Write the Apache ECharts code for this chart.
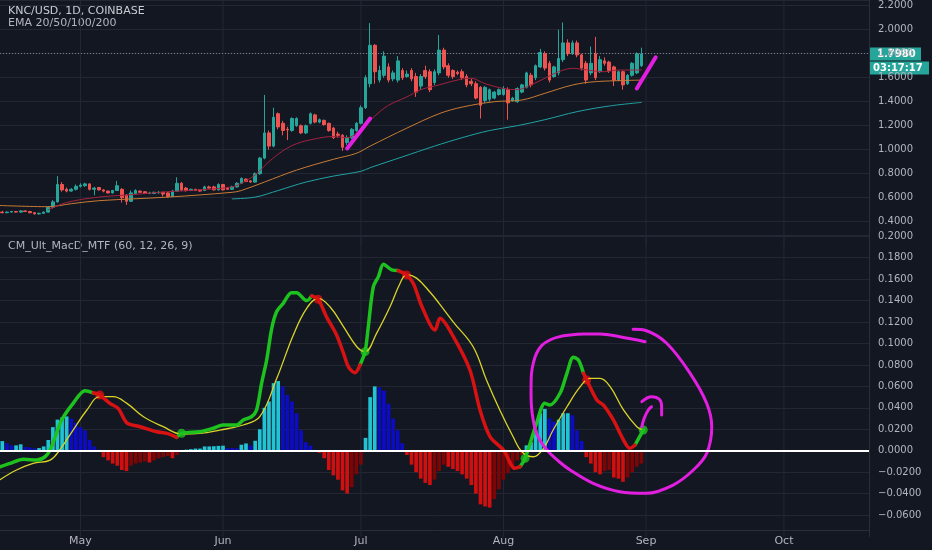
<!DOCTYPE html>
<html><head><meta charset="utf-8">
<script src="https://cdn.jsdelivr.net/npm/echarts@6/dist/echarts.min.js"></script>
<style>html,body{margin:0;padding:0;background:#131722;}#c{width:932px;height:550px;}</style>
</head><body><div id="c"></div>
<script>
// ---------- data ----------
const startDate = '2020-04-14';
const dayCount = 189;
const monthNames = ['Jan','Feb','Mar','Apr','May','Jun','Jul','Aug','Sep','Oct','Nov','Dec'];
const priceTitle = 'KNC/USD, 1D, COINBASE';
const emaTitle = 'EMA 20/50/100/200';
const macdTitle = 'CM_Ult_MacD_MTF (60, 12, 26, 9)';
const countdown = '03:17:17';
const priceStep = 0.2;
const macdStep = 0.02;
const priceRange = [0.2, 2.2475];
const macdRange = [-0.08, 0.2012];

// daily candles [open, close, low, high]
const candles = [
[.48,.475,.47,.49],[.475,.48,.47,.485],[.48,.485,.475,.49],[.485,.48,.475,.49],[.48,.49,.475,.495],
[.49,.485,.48,.495],[.485,.475,.47,.49],[.475,.465,.46,.48],[.465,.47,.46,.475],[.47,.48,.465,.485],
[.48,.52,.475,.53],[.52,.565,.51,.58],[.565,.71,.56,.78],[.71,.665,.65,.73],[.67,.655,.645,.685],
[.655,.67,.65,.68],[.67,.695,.66,.71],[.695,.705,.685,.72],[.70,.715,.69,.725],[.715,.67,.66,.72],
[.67,.68,.62,.69],[.685,.665,.66,.69],[.665,.655,.645,.67],[.655,.64,.635,.66],[.64,.66,.635,.665],
[.66,.70,.655,.74],[.67,.60,.56,.68],[.62,.57,.54,.63],[.57,.64,.565,.66],[.635,.66,.63,.67],
[.655,.645,.64,.66],[.65,.635,.63,.655],[.635,.64,.63,.65],[.635,.645,.63,.65],[.64,.645,.635,.655],
[.645,.63,.61,.65],[.64,.61,.60,.645],[.61,.655,.605,.665],[.655,.72,.65,.77],[.72,.665,.655,.73],
[.68,.66,.65,.69],[.66,.67,.655,.675],[.67,.66,.655,.675],[.665,.655,.65,.67],[.66,.69,.655,.70],
[.69,.68,.675,.70],[.69,.665,.66,.70],[.665,.71,.66,.72],[.71,.665,.66,.715],[.68,.67,.665,.69],
[.67,.69,.665,.70],[.69,.72,.685,.73],[.72,.76,.715,.77],[.755,.735,.73,.76],[.74,.73,.725,.745],
[.73,.80,.725,.81],[.80,.93,.79,.94],[.93,1.14,.92,1.456],[1.14,1.03,1.0,1.16],[1.03,1.27,1.02,1.35],
[1.30,1.19,1.17,1.31],[1.22,1.16,1.12,1.24],[1.17,1.165,1.08,1.19],[1.16,1.26,1.15,1.27],[1.20,1.26,1.19,1.27],
[1.20,1.14,1.13,1.21],[1.14,1.20,1.13,1.21],[1.22,1.30,1.21,1.31],[1.29,1.23,1.22,1.30],[1.23,1.25,1.22,1.26],
[1.245,1.21,1.20,1.25],[1.22,1.16,1.15,1.225],[1.18,1.10,1.09,1.19],[1.13,1.12,1.10,1.15],[1.12,1.02,0.99,1.13],
[1.06,1.10,1.04,1.12],[1.10,1.17,1.09,1.18],[1.16,1.22,1.15,1.23],[1.22,1.35,1.21,1.37],[1.35,1.60,1.34,1.62],
[1.55,1.87,1.52,2.055],[1.87,1.65,1.55,1.88],[1.58,1.66,1.56,1.70],[1.62,1.78,1.60,1.82],[1.69,1.58,1.56,1.72],
[1.59,1.64,1.57,1.66],[1.58,1.74,1.56,1.78],[1.66,1.60,1.58,1.68],[1.61,1.63,1.60,1.66],[1.66,1.59,1.57,1.68],
[1.61,1.48,1.44,1.64],[1.53,1.61,1.50,1.63],[1.66,1.61,1.59,1.70],[1.65,1.50,1.48,1.67],[1.56,1.65,1.54,1.67],
[1.64,1.83,1.62,1.956],[1.83,1.69,1.67,1.85],[1.70,1.62,1.60,1.72],[1.66,1.61,1.59,1.67],[1.645,1.635,1.62,1.66],
[1.65,1.60,1.58,1.67],[1.61,1.54,1.52,1.63],[1.57,1.55,1.53,1.59],[1.55,1.43,1.42,1.57],[1.52,1.37,1.26,1.53],
[1.41,1.52,1.39,1.53],[1.42,1.50,1.40,1.51],[1.43,1.48,1.42,1.49],[1.46,1.50,1.45,1.51],[1.46,1.51,1.45,1.53],
[1.50,1.39,1.25,1.52],[1.41,1.43,1.40,1.44],[1.40,1.51,1.39,1.52],[1.48,1.54,1.47,1.55],[1.52,1.64,1.51,1.65],
[1.62,1.54,1.52,1.64],[1.60,1.70,1.58,1.71],[1.69,1.81,1.68,1.84],[1.80,1.68,1.66,1.82],[1.72,1.58,1.56,1.74],
[1.61,1.69,1.60,1.70],[1.64,1.76,1.62,2.00],[1.75,1.89,1.73,2.06],[1.89,1.80,1.78,1.92],[1.80,1.89,1.79,1.91],
[1.89,1.79,1.77,1.91],[1.79,1.68,1.66,1.80],[1.72,1.58,1.55,1.74],[1.64,1.72,1.62,1.86],[1.80,1.60,1.58,1.94],
[1.65,1.75,1.64,1.78],[1.74,1.72,1.70,1.77],[1.73,1.66,1.64,1.74],[1.69,1.58,1.53,1.70],[1.58,1.65,1.57,1.66],
[1.65,1.54,1.50,1.66],[1.55,1.62,1.54,1.63],[1.62,1.72,1.61,1.73],[1.64,1.80,1.63,1.81],[1.70,1.798,1.69,1.85]
];

// EMA lines, read at sample bars: [bar index, value]
const ema20 = [[10,.50],[14,.56],[21,.605],[28,.625],[36,.65],[43,.665],[50,.69],[52,.72],[55,.79],[58,.90],[61,.99],[64,1.05],[68,1.09],[72,1.11],[75,1.10],[78,1.17],[81,1.28],[84,1.37],[88,1.44],[91,1.50],[95,1.54],[100,1.59],[102,1.595],[105,1.55],[109,1.51],[112,1.50],[115,1.54],[118,1.595],[121,1.65],[124,1.678],[127,1.665],[131,1.65],[134,1.664],[139,1.664]];
const ema50 = [[-0.5,.535],[10,.525],[15,.55],[21,.575],[36,.605],[50,.645],[52,.66],[57,.73],[64,.83],[72,.92],[77,.97],[80,1.03],[88,1.18],[95,1.30],[100,1.355],[107,1.40],[113,1.414],[118,1.47],[124,1.539],[129,1.567],[139,1.58]];
const ema100 = [[50,.59],[55,.605],[60,.66],[66,.73],[72,.78],[78,.82],[80,.85],[87,.94],[94,1.03],[100,1.10],[106,1.16],[112,1.20],[118,1.25],[125,1.317],[132,1.364],[139,1.394]];

// MACD line and signal line: [bar index, value]
const macdLine = [[-0.5,-0.015],[1.7,-0.0118],[4.6,-0.008],[7.5,-0.0087],[9.3,-0.0056],[10.4,0.0007],[11.5,0.013],[12.9,0.0286],[15.4,0.0442],[18,0.056],[19.8,0.054],[21.2,0.052],[23.4,0.0442],[25.2,0.0395],[27.1,0.026],[30,0.0224],[33.6,0.0177],[35.8,0.0162],[37.9,0.0125],[39,0.0162],[43,0.0177],[45.9,0.021],[48,0.024],[51,0.024],[52.4,0.0286],[54.2,0.0317],[55.3,0.038],[56.4,0.063],[57.5,0.0846],[58.6,0.114],[59.7,0.130],[61.1,0.1375],[62.9,0.1474],[64,0.1474],[66.2,0.140],[67.3,0.1443],[68.7,0.1412],[70.5,0.125],[72.7,0.108],[74.2,0.091],[75.3,0.078],[76.7,0.0728],[77.8,0.080],[78.9,0.0924],[79.6,0.1157],[80.7,0.153],[81.8,0.1624],[82.9,0.174],[84.7,0.1686],[86.1,0.168],[87.9,0.164],[89.4,0.156],[91.3,0.134],[94.1,0.1126],[95.2,0.1235],[98.1,0.1064],[101.7,0.0753],[103.9,0.038],[106.1,0.013],[109,0.0007],[111.5,-0.0164],[112.6,-0.0149],[113.7,-0.0071],[116.2,0.0256],[118,0.0442],[119.1,0.0427],[121.3,0.0536],[122.8,0.0722],[124.2,0.0871],[125.3,0.0846],[126.4,0.0722],[127.1,0.066],[129.3,0.0473],[130.7,0.0427],[132.9,0.0287],[135.1,0.010],[136.5,0.0022],[137.6,0.0053],[139.4,0.0193]];
const signalLine = [[-0.5,-0.027],[3.1,-0.018],[6.7,-0.0118],[10.4,-0.0087],[12.5,0.0007],[15.4,0.0193],[18.4,0.038],[21.2,0.0504],[24.1,0.0504],[27.1,0.0442],[30.7,0.0317],[35,0.0224],[39,0.0156],[43,0.0162],[47.3,0.0193],[52.4,0.024],[56,0.0317],[59.7,0.0675],[63.3,0.108],[66.2,0.1328],[68.7,0.142],[71.3,0.134],[74.2,0.1157],[77.1,0.097],[78.9,0.0924],[81.4,0.1095],[84.3,0.134],[86.5,0.156],[87.9,0.164],[90.1,0.161],[93,0.148],[95,0.1375],[98.1,0.120],[102.4,0.097],[105.3,0.066],[108.2,0.038],[111.1,0.013],[113,-0.0009],[115.5,-0.0056],[117.7,0.0022],[119.8,0.0193],[122.8,0.041],[125.7,0.0597],[127.8,0.0675],[130,0.0675],[132.2,0.0597],[135.1,0.038],[138,0.0224],[139.4,0.0193]];
// crossings: bar index on the MACD line, direction
const crossBars = [21.2, 39, 68.7, 78.9, 87.9, 113.7, 127.1, 139.4];
const crossDirs = ['down','up','down','up','down','up','down','up'];

// histogram per bar
const hist = [
.009,.007,.005,.005,.006,.0035,.003,.0022,.0025,.004,
.010,.022,.029,.031,.032,.030,.026,.022,.019,.010,
.004,.001,-.006,-.009,-.012,-.014,-.018,-.019,-.014,-.012,
-.011,-.010,-.011,-.009,-.007,-.006,-.005,-.007,-.004,-.001,
.001,.0015,.002,.002,.004,.004,.0042,.0045,.0047,.0025,
.0024,.0023,.0056,.0068,.005,.0093,.020,.040,.046,.063,
.065,.060,.052,.046,.035,.019,.008,.005,.001,-.002,
-.007,-.018,-.023,-.027,-.037,-.040,-.034,-.022,-.013,.012,
.050,.060,.059,.056,.044,.030,.019,.007,-.004,-.013,
-.020,-.026,-.030,-.032,-.027,-.019,-.013,-.015,-.017,-.019,
-.022,-.026,-.032,-.040,-.050,-.052,-.053,-.045,-.036,-.027,
-.021,-.015,-.009,-.004,.005,.008,.019,.035,.039,.030,
.027,.029,.035,.035,.033,.019,.009,-.006,-.012,-.020,
-.022,-.019,-.018,-.025,-.026,-.029,-.025,-.020,-.015,-.012
];

// hand-drawn annotations [bar index, value]
const strokeTop1 = [[75,1.01],[80,1.26]];
const strokeTop2 = [[138,1.51],[142.1,1.77]];
const circleStroke = [[139.8,0.1017],[134.3,0.1063],[130,0.1089],[126.5,0.1088],[123.5,0.1079],[121,0.1062],[119.1,0.1033],[117.4,0.0985],[116.2,0.0909],[115.5,0.082],[115.1,0.0722],[115,0.056],[115.1,0.041],[115.5,0.028],[116.2,0.0162],[117.5,0.006],[119.1,-0.0024],[121.2,-0.0105],[123.5,-0.018],[128.5,-0.0304],[134.3,-0.0382],[140.1,-0.0397],[145.9,-0.032],[150.3,-0.018],[153.2,-0.0024],[154.3,0.0224],[153.2,0.0442],[149.6,0.0722],[144.5,0.1002],[140.1,0.1119],[137.2,0.1132]];
const qStroke1 = [[139.1,0.0457],[141.2,0.0504],[142.9,0.048],[143.4,0.041],[143.4,0.0333]];
const qStroke2 = [[139.1,0.0224],[139.6,0.0302],[140.5,0.038],[141.2,0.041]];

// ---------- derived ----------
const dates = [];
{
  const d0 = new Date(startDate + 'T00:00:00Z');
  for (let i = 0; i < dayCount; i++) {
    const d = new Date(d0.getTime() + i * 86400000);
    dates.push(d.toISOString().slice(0, 10));
  }
}
const monthStarts = [];
dates.forEach((d, i) => { if (d.endsWith('-01')) monthStarts.push(i); });
const isMonthStart = (i, v) => String(v).endsWith('-01');
const lastClose = candles[candles.length - 1][1];
// vertical month grid lines as broken polyline in axis units
const monthGrid = range => {
  const out = [];
  monthStarts.forEach(m => { out.push([m, range[0]], [m, range[1]], [m, null]); });
  return out;
};

const crossPtIdx = crossBars.map(b => macdLine.findIndex(p => p[0] === b));
const segColor = [];
{
  let cur = crossDirs[0] === 'down' ? 'up' : 'down';
  for (let j = 0; j < macdLine.length - 1; j++) {
    const k = crossPtIdx.findIndex(ci => ci - 1 === j);
    if (k >= 0) cur = crossDirs[k];
    segColor.push(cur);
  }
}
function macdPiece(dir) {
  return macdLine.map((p, j) => {
    const a = j > 0 && segColor[j - 1] === dir;
    const b = j < segColor.length && segColor[j] === dir;
    return (a || b) ? p : [p[0], null];
  });
}
const crossDots = crossBars.map((b, k) => ({ value: macdLine[crossPtIdx[k]], dir: crossDirs[k] }));

// ---------- style ----------
const BG = '#131722', GRID = '#232734', AXIS = '#2a2e39', TEXT = '#b2b5be';
const FONT = '"DejaVu Sans", Verdana, sans-serif';
const UP = '#26a69a', DOWN = '#ef5350';
const MAG = '#e21fe0';
const GREEN = '#1ec21e', RED = '#d81212';
const HC = { cyan: '#22c3d3', blue: '#0c0cc4', red: '#d00f0f', dark: '#7d0505' };

const chart = echarts.init(document.getElementById('c'), null, { renderer: 'canvas' });

function lineS(xi, yi, data, color, width, smooth, extra) {
  return Object.assign({
    type: 'line', xAxisIndex: xi, yAxisIndex: yi, data: data, showSymbol: false,
    smooth: smooth, silent: true, connectNulls: false,
    lineStyle: { color: color, width: width, cap: 'round', join: 'round' }
  }, extra || {});
}
function tickFmt(step) {
  return v => {
    const r = v / step;
    if (Math.abs(r - Math.round(r)) > 1e-6) return '';
    return (v < -1e-9 ? '\u2212' : '') + Math.abs(v).toFixed(4);
  };
}

const option = {
  backgroundColor: BG,
  animation: false,
  grid: [
    { left: 0, right: 63, top: 0, height: 245.7 },
    { left: 0, right: 63, top: 235, height: 301.5 }
  ],
  xAxis: [
    { type: 'category', gridIndex: 0, data: dates, boundaryGap: true, show: false },
    { type: 'category', gridIndex: 1, data: dates, boundaryGap: true, offset: -6.5,
      axisLine: { show: true, onZero: false, lineStyle: { color: AXIS } },
      axisTick: { show: false },
      splitLine: { show: false },
      axisLabel: { interval: isMonthStart, formatter: v => monthNames[+v.slice(5, 7) - 1],
        color: TEXT, fontSize: 11, fontFamily: FONT, margin: 6 } },
    { type: 'value', gridIndex: 0, min: -0.5, max: dayCount - 0.5, show: false },
    { type: 'value', gridIndex: 1, min: -0.5, max: dayCount - 0.5, show: false }
  ],
  yAxis: [
    { type: 'value', gridIndex: 0, position: 'right', min: priceRange[0], max: priceRange[1], interval: priceStep,
      axisLine: { show: true, onZero: false, lineStyle: { color: AXIS } }, axisTick: { show: false },
      axisLabel: { showMinLabel: false, showMaxLabel: true, hideOverlap: false, formatter: tickFmt(priceStep),
        color: TEXT, fontSize: 10, fontFamily: FONT, margin: 9 },
      splitLine: { show: true, showMinLine: false, lineStyle: { color: GRID } } },
    { type: 'value', gridIndex: 1, position: 'right', min: macdRange[0], max: macdRange[1], interval: macdStep,
      axisLine: { show: true, onZero: false, lineStyle: { color: AXIS } }, axisTick: { show: false },
      axisLabel: { showMinLabel: false, showMaxLabel: true, hideOverlap: false, formatter: tickFmt(macdStep),
        color: TEXT, fontSize: 10, fontFamily: FONT, margin: 9 },
      splitLine: { show: true, showMinLine: false, lineStyle: { color: GRID } } }
  ],
  series: [
    lineS(2, 0, monthGrid(priceRange), GRID, 1, false, { z: 1 }),
    lineS(2, 0, ema50, '#c97b35', 1, 0.35),
    {
      type: 'candlestick', xAxisIndex: 0, yAxisIndex: 0, data: candles, barWidth: '68%', silent: true,
      itemStyle: { color: UP, color0: DOWN, borderColor: UP, borderColor0: DOWN, borderWidth: 1 },
      markLine: {
        silent: true, symbol: 'none', animation: false, label: { show: false },
        lineStyle: { color: 'rgba(150,160,170,0.75)', type: [1, 2], width: 1 },
        data: [{ yAxis: lastClose }]
      }
    },
    lineS(2, 0, ema20, '#a3223f', 1, 0.35),
    lineS(2, 0, ema100, '#1fa3a3', 1, 0.35),
    lineS(2, 0, strokeTop1, MAG, 4, false),
    lineS(2, 0, strokeTop2, MAG, 4, false),

    lineS(3, 1, monthGrid(macdRange), GRID, 1, false, { z: 1 }),
    {
      type: 'bar', xAxisIndex: 1, yAxisIndex: 1, data: hist, barWidth: '80%', silent: true,
      itemStyle: {
        color: p => {
          const v = hist[p.dataIndex], pv = p.dataIndex > 0 ? hist[p.dataIndex - 1] : v;
          if (v >= 0) return v >= pv ? HC.cyan : HC.blue;
          return v <= pv ? HC.red : HC.dark;
        }
      },
      markLine: {
        silent: true, symbol: 'none', animation: false, label: { show: false },
        lineStyle: { color: '#ffffff', type: 'solid', width: 2 },
        data: [{ yAxis: 0 }]
      }
    },
    lineS(3, 1, signalLine, '#d9d427', 1.3, 0.4),
    lineS(3, 1, macdPiece('up'), GREEN, 3.5, 0.3),
    lineS(3, 1, macdPiece('down'), RED, 3.5, 0.3),
    {
      type: 'scatter', xAxisIndex: 3, yAxisIndex: 1, silent: true, symbolSize: 9,
      data: crossDots.map(d => ({ value: d.value, itemStyle: { color: d.dir === 'up' ? GREEN : RED } }))
    },
    lineS(3, 1, circleStroke, MAG, 3, 0.35),
    lineS(3, 1, qStroke1, MAG, 3, 0.4),
    lineS(3, 1, qStroke2, MAG, 3, 0.4)
  ],
  graphic: [
    { type: 'text', id: 't1', x: 8, y: 11, silent: true,
      style: { text: priceTitle, fill: '#c9ccd4', font: '11px ' + FONT, verticalAlign: 'middle' } },
    { type: 'text', id: 't2', x: 8, y: 23, silent: true,
      style: { text: emaTitle, fill: '#b2b5be', font: '11px ' + FONT, verticalAlign: 'middle' } },
    { type: 'text', id: 't3', x: 8, y: 246, silent: true,
      style: { text: macdTitle, fill: '#b2b5be', font: '11px ' + FONT, verticalAlign: 'middle' } }
  ]
};
chart.setOption(option);

// last price tag and countdown, placed through the price scale
const py = chart.convertToPixel({ yAxisIndex: 0 }, lastClose);
const ax = chart.convertToPixel({ xAxisIndex: 2 }, dayCount - 0.5);
chart.setOption({
  graphic: [
    { type: 'rect', id: 'pr', x: ax, y: py - 6.5, silent: true, shape: { width: 52, height: 13 }, style: { fill: UP } },
    { type: 'text', id: 'pt', x: ax + 8, y: py, silent: true,
      style: { text: lastClose.toFixed(4), fill: '#ffffff', font: 'bold 10px ' + FONT, verticalAlign: 'middle' } },
    { type: 'rect', id: 'cr', x: ax + 1, y: py + 7.5, silent: true, shape: { width: 59, height: 13 }, style: { fill: UP } },
    { type: 'text', id: 'ct', x: ax + 4, y: py + 14, silent: true,
      style: { text: countdown, fill: '#ffffff', font: 'bold 10px ' + FONT, verticalAlign: 'middle' } }
  ]
});
</script></body></html>
